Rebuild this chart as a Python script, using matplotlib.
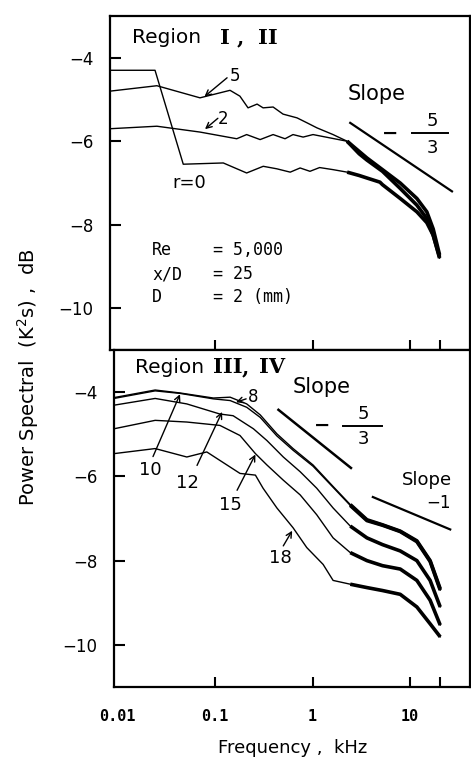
import numpy as np
import matplotlib.pyplot as plt

# Temperature power spectra, Re = 5,000, x/D = 25
# Region I, II  (r = 0, 2, 5)
f_r0 = [0.0084, 0.0243, 0.0473, 0.1216, 0.211, 0.312, 0.43, 0.59, 0.745, 0.94,
        1.18, 1.62, 2.26, 3.0, 3.6, 4.9, 5.2, 7.9, 11.7, 14.8, 17.2, 20.0]
p_r0 = [-4.30, -4.30, -6.55, -6.52, -6.76, -6.60, -6.66, -6.74, -6.64, -6.72,
        -6.63, -6.68, -6.74, -6.82, -6.88, -6.98, -7.04, -7.37, -7.69, -7.95, -8.25, -8.80]

f_r2 = [0.0084, 0.0254, 0.0702, 0.167, 0.211, 0.290, 0.394, 0.522, 0.63, 0.80,
        1.01, 1.51, 2.26, 3.0, 3.6, 5.2, 7.9, 11.7, 14.8, 17.2, 20.0]
p_r2 = [-5.70, -5.64, -5.78, -5.94, -5.84, -5.96, -5.84, -5.94, -5.84, -5.90,
        -5.84, -5.92, -6.00, -6.30, -6.45, -6.72, -7.13, -7.53, -7.85, -8.25, -8.77]

f_r5 = [0.0084, 0.0254, 0.0702, 0.1426, 0.180, 0.218, 0.270, 0.311, 0.394, 0.498,
        0.693, 0.879, 1.11, 1.62, 2.26, 3.6, 5.2, 7.9, 11.7, 14.8, 17.2, 20.0]
p_r5 = [-4.80, -4.67, -4.96, -4.78, -4.92, -5.20, -5.11, -5.20, -5.18, -5.35,
        -5.44, -5.56, -5.68, -5.84, -6.00, -6.40, -6.68, -7.00, -7.37, -7.69, -8.10, -8.72]

# Region III, IV  (r = 8, 10, 12, 15, 18)
f_out = [0.0092, 0.0243, 0.0437, 0.096, 0.1426, 0.211, 0.290, 0.43, 0.63, 1.01,
         1.62, 2.43, 3.6, 5.2, 7.9, 11.7, 16.0, 20.3]
p_r8 = [-4.13, -3.95, -4.02, -4.14, -4.12, -4.28, -4.54, -4.99, -5.34, -5.73,
        -6.24, -6.67, -7.03, -7.15, -7.30, -7.53, -8.00, -8.67]
p_r10 = [-4.15, -3.97, -4.03, -4.16, -4.20, -4.36, -4.60, -5.04, -5.38, -5.76,
         -6.26, -6.69, -7.05, -7.16, -7.31, -7.55, -8.02, -8.70]

f_r12 = [0.0092, 0.0243, 0.0513, 0.112, 0.153, 0.247, 0.34, 0.50, 0.745, 1.10,
         1.62, 2.43, 3.6, 5.2, 7.9, 11.7, 16.0, 20.3]
p_r12 = [-4.31, -4.15, -4.28, -4.52, -4.56, -4.87, -5.15, -5.54, -5.89, -6.28,
         -6.75, -7.18, -7.46, -7.62, -7.77, -8.00, -8.47, -9.10]

f_r15 = [0.0092, 0.0243, 0.0513, 0.112, 0.180, 0.259, 0.34, 0.50, 0.745, 1.10,
         1.62, 2.43, 3.6, 5.2, 7.9, 11.7, 16.0, 20.3]
p_r15 = [-4.87, -4.67, -4.71, -4.79, -5.03, -5.46, -5.73, -6.09, -6.44, -6.91,
         -7.46, -7.81, -8.00, -8.12, -8.20, -8.47, -8.94, -9.53]

f_r18 = [0.0092, 0.0243, 0.0513, 0.0822, 0.180, 0.259, 0.31, 0.43, 0.63, 0.87,
         1.28, 1.62, 2.43, 3.6, 5.2, 7.9, 11.7, 16.0, 20.3]
p_r18 = [-5.46, -5.34, -5.54, -5.42, -5.93, -5.97, -6.28, -6.75, -7.22, -7.69,
         -8.09, -8.47, -8.56, -8.64, -8.71, -8.80, -9.10, -9.50, -9.81]

# reference slope lines
slope53_top_f = [2.43, 26.8]
slope53_top_p = [-5.56, -7.20]
slope53_bot_f = [0.446, 2.47]
slope53_bot_p = [-4.42, -5.80]
slope1_bot_f = [4.14, 25.7]
slope1_bot_p = [-6.49, -7.26]

xticks = [0.01, 0.1, 1, 10, 20]
xticklabels = ['0.01', '0.1', '1', '10', '']
yticks = [-10, -8, -6, -4]

W, H = 471, 760
fig = plt.figure(figsize=(W / 100, H / 100), dpi=100)
ax1 = fig.add_axes([110 / W, 1 - 350 / H, 360 / W, 334 / H])
ax2 = fig.add_axes([114 / W, 1 - 687 / H, 356 / W, 337 / H])


def spectrum(ax, f, p, fcut):
    f = np.asarray(f)
    p = np.asarray(p)
    ax.plot(f, p, color='black', lw=1.0)
    m = f >= fcut
    ax.plot(f[m], p[m], color='black', lw=2.6, solid_capstyle='butt')


def setup(ax, xlo, labels):
    ax.set_xscale('log')
    ax.set_xlim(xlo, 41)
    ax.set_ylim(-11, -3)
    ax.set_xticks(xticks)
    ax.minorticks_off()
    ax.set_yticks(yticks)
    ax.set_yticklabels(['\u221210', '\u22128', '\u22126', '\u22124'],
                       fontsize=12)
    if labels:
        ax.set_xticklabels(xticklabels, fontsize=11, family='DejaVu Sans Mono',
                           fontweight='bold')
    else:
        ax.set_xticklabels([])
    ax.tick_params(axis='x', direction='in', length=7, width=1.5, pad=16)
    ax.tick_params(axis='y', direction='in', length=8, width=1.5, pad=12)
    # no mark at 0.01, it sits on the left spine
    ax.xaxis.get_major_ticks()[0].tick1line.set_visible(False)
    for s in ax.spines.values():
        s.set_linewidth(1.6)


def region_label(ax, y, xs, parts):
    ax.text(xs[0], y, 'Region', fontsize=14.5, va='center')
    for xp, s in zip(xs[1:], parts):
        ax.text(xp, y, s, fontsize=15, family='DejaVu Serif',
                fontweight='bold', ha='center', va='center')


# --- upper panel
setup(ax1, 0.0084, False)
spectrum(ax1, f_r0, p_r0, 1.8)
spectrum(ax1, f_r2, p_r2, 1.8)
spectrum(ax1, f_r5, p_r5, 1.8)
ax1.plot(slope53_top_f, slope53_top_p, color='black', lw=1.6)

region_label(ax1, -3.52, [0.0141, 0.127, 0.18, 0.35], ['I', ',', 'II'])
arr = dict(arrowstyle='->', lw=1.0, color='black', shrinkA=0, shrinkB=0)
ax1.annotate('', xy=(0.078, -4.93), xytext=(0.133, -4.48), arrowprops=arr)
ax1.text(0.160, -4.43, '5', fontsize=12, ha='center', va='center')
ax1.annotate('', xy=(0.079, -5.71), xytext=(0.107, -5.45), arrowprops=arr)
ax1.text(0.121, -5.47, '2', fontsize=12, ha='center', va='center')
ax1.text(0.037, -7.01, 'r=0', fontsize=13, va='center')
ax1.text(2.26, -4.87, 'Slope', fontsize=15, va='center')
ax1.text(6.24, -5.81, '\u2212', fontsize=14, ha='center', va='center',
         fontweight='bold')
ax1.text(16.8, -5.52, '5', fontsize=13, ha='center', va='center')
ax1.text(16.8, -6.17, '3', fontsize=13, ha='center', va='center')
ax1.plot([10.5, 24.5], [-5.81, -5.81], color='black', lw=1.4)

mono = dict(fontsize=12, family='DejaVu Sans Mono', va='center')
ax1.text(0.0226, -8.60, 'Re', **mono)
ax1.text(0.0954, -8.60, '= 5,000', **mono)
ax1.text(0.0226, -9.18, 'x/D', **mono)
ax1.text(0.0954, -9.18, '= 25', **mono)
ax1.text(0.0226, -9.73, 'D', **mono)
ax1.text(0.0954, -9.73, '= 2 (mm)', **mono)

# --- lower panel
setup(ax2, 0.0092, True)
spectrum(ax2, f_out, p_r8, 2.2)
spectrum(ax2, f_out, p_r10, 2.2)
spectrum(ax2, f_r12, p_r12, 2.2)
spectrum(ax2, f_r15, p_r15, 2.2)
spectrum(ax2, f_r18, p_r18, 2.2)
ax2.plot(slope53_bot_f, slope53_bot_p, color='black', lw=1.8)
ax2.plot(slope1_bot_f, slope1_bot_p, color='black', lw=1.6)

region_label(ax2, -3.41, [0.0151, 0.136, 0.203, 0.385], ['III', ',', 'IV'])
ax2.text(1.25, -3.88, 'Slope', fontsize=15, ha='center', va='center')
ax2.text(1.25, -4.80, '\u2212', fontsize=14, ha='center', va='center',
         fontweight='bold')
ax2.text(3.32, -4.52, '5', fontsize=13, ha='center', va='center')
ax2.text(3.32, -5.11, '3', fontsize=13, ha='center', va='center')
ax2.plot([2.06, 5.16], [-4.80, -4.80], color='black', lw=1.4)
ax2.text(14.9, -6.09, 'Slope', fontsize=13, ha='center', va='center')
ax2.text(19.4, -6.64, '\u22121', fontsize=12, ha='center', va='center')

ax2.annotate('', xy=(0.0437, -4.05), xytext=(0.0231, -5.53), arrowprops=arr)
ax2.text(0.0215, -5.86, '10', fontsize=13, ha='center', va='center')
ax2.annotate('', xy=(0.118, -4.47), xytext=(0.0653, -5.74), arrowprops=arr)
ax2.text(0.0516, -6.16, '12', fontsize=13, ha='center', va='center')
ax2.annotate('', xy=(0.259, -5.48), xytext=(0.168, -6.33), arrowprops=arr)
ax2.text(0.1426, -6.68, '15', fontsize=13, ha='center', va='center')
ax2.annotate('', xy=(0.617, -7.29), xytext=(0.50, -7.65), arrowprops=arr)
ax2.text(0.464, -7.93, '18', fontsize=13, ha='center', va='center')
ax2.annotate('', xy=(0.164, -4.24), xytext=(0.208, -4.16), arrowprops=arr)
ax2.text(0.245, -4.12, '8', fontsize=12, ha='center', va='center')

fig.text(0.06, 0.503, 'Power Spectral  (K$^2$s) ,  dB', rotation=90,
         fontsize=14, ha='center', va='center')
fig.text(0.622, 0.016, 'Frequency ,  kHz', fontsize=13, ha='center',
         va='center')

fig.savefig('out.png', dpi=100)
